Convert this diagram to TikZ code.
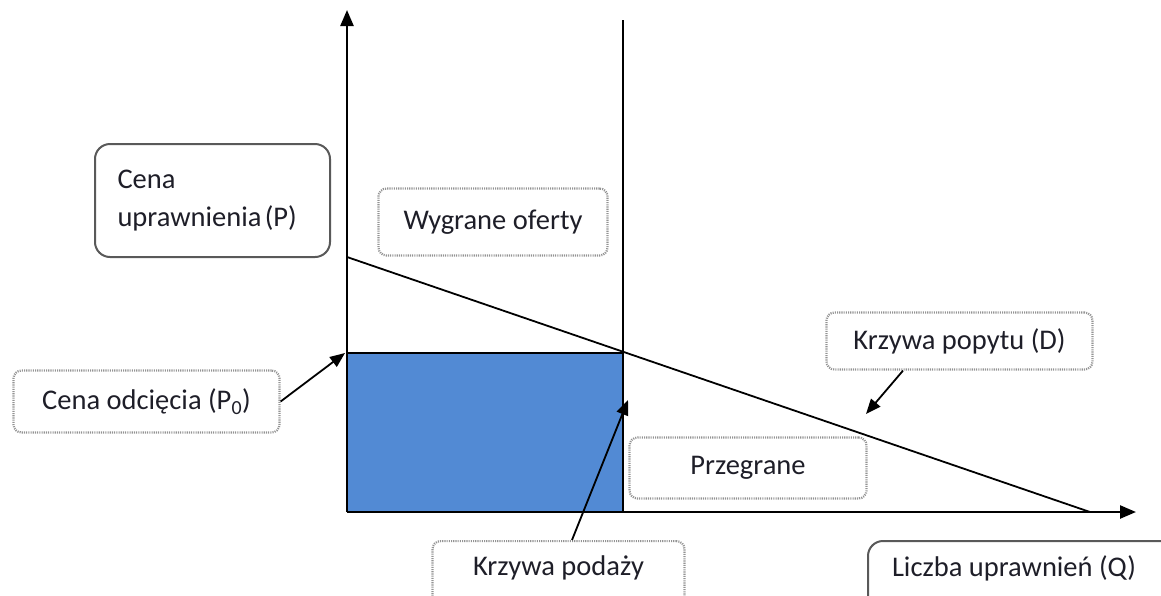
\documentclass[tikz,border=0pt]{standalone}
\usepackage{fontspec}
\setmainfont{Carlito}
\usetikzlibrary{arrows.meta}
\definecolor{areablue}{RGB}{82,138,212}
\definecolor{txt}{RGB}{30,30,40}
\tikzset{
  axis/.style={line width=2.4pt, -{Triangle[length=16pt,width=13pt]}},
  curve/.style={line width=1.8pt},
  pointer/.style={line width=1.8pt, -{Triangle[length=15pt,width=12pt]}},
  dotbox/.style={draw=gray!85, line width=2.2pt, dash pattern=on 1.1pt off 1.1pt,
    rounded corners=8pt, text=txt, font=\fontsize{28.5}{38}\selectfont},
  solidbox/.style={draw=black!65, line width=2pt, rounded corners=15pt,
    text=txt, font=\fontsize{28.5}{38}\selectfont},
  plainlabel/.style={text=txt, font=\fontsize{28.5}{38}\selectfont},
}
\begin{document}
\begin{tikzpicture}[x=1pt,y=-1pt]
\useasboundingbox (0,0) rectangle (1161,595);
\clip (0,0) rectangle (1161,595);

% key points of the market diagram
\coordinate (O) at (347,512);
\coordinate (ytop) at (347,10);
\coordinate (xend) at (1136,512);
\coordinate (p0) at (347,353);
\coordinate (q0) at (623,353);
\coordinate (stop) at (623,20);
\coordinate (q0base) at (623,512);
\coordinate (dstart) at (347,257);
\coordinate (dend) at (1090,512);

% accepted bids area
\fill[areablue] (O) rectangle (q0);
\draw[line width=1.8pt] (p0) -- (q0);

% supply (vertical) and demand curves
\draw[line width=2pt] (q0base) -- (stop);
\draw[curve] (dstart) -- (dend);

% axes
\draw[axis] (O) -- (ytop);
\draw[axis] (O) -- (xend);

% labels
\node[solidbox, minimum width=235pt, minimum height=113pt, align=left,
      anchor=north west, text width=190pt, inner xsep=22pt]
  (pbox) at (94,143) {Cena\\uprawnienia\hspace{0.12em}(P)};
\node[dotbox, minimum width=266pt, minimum height=62pt] (p0box) at (146.5,401.5)
  {Cena odcięcia (P\textsubscript{0})};
\node[dotbox, minimum width=229pt, minimum height=67pt] (winbox) at (493,222)
  {Wygrane oferty};
\node[dotbox, minimum width=266pt, minimum height=57pt] (dbox) at (959.5,341)
  {Krzywa popytu (D)};
\node[dotbox, minimum width=237pt, minimum height=61pt] (losebox) at (748,468)
  {Przegrane};
\node[dotbox, minimum width=252pt, minimum height=70pt, anchor=north] (sbox) at (558.5,540)
  {};
\node[plainlabel] (slabel) at (558.5,568) {Krzywa podaży};
\node[solidbox, minimum width=320pt, minimum height=70pt, anchor=north west] (qbox) at (867,540)
  {};
\node[plainlabel] (qlabel) at (1014,568) {Liczba uprawnień (Q)};

% pointers from labels to the curves
\coordinate (dtip) at (866,414);
\coordinate (stip) at (628,400);
\draw[pointer] (p0box.east) -- ([xshift=-2pt]p0);
\draw[pointer] (dbox.south -| 903,0) -- (dtip);
\draw[pointer] (sbox.north -| 572,0) -- (stip);
\end{tikzpicture}
\end{document}
